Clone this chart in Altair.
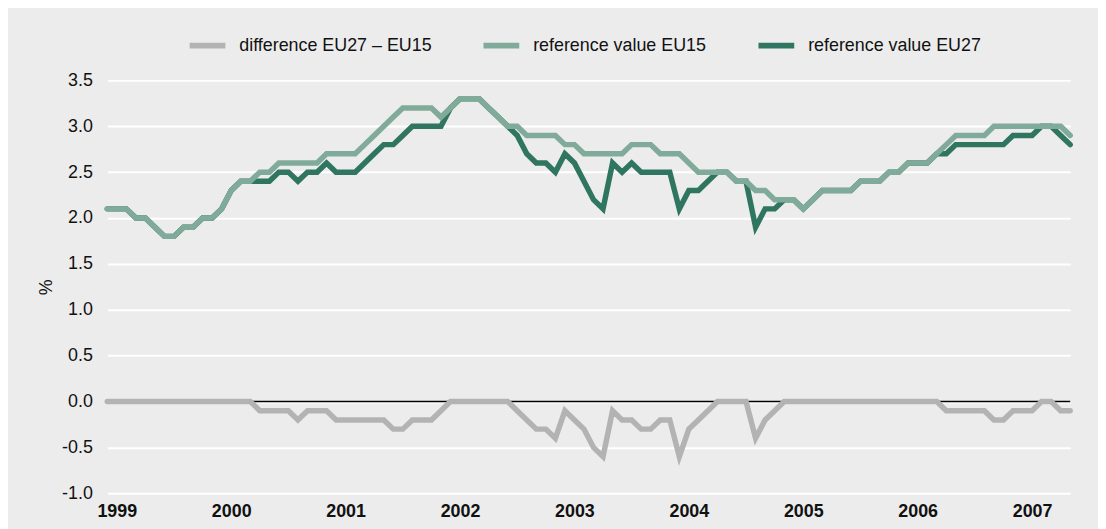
import altair as alt
import pandas as pd

# Monthly values, January 1999 to June 2007 (102 months)
EU15 = [2.1, 2.1, 2.1, 2.0, 2.0, 1.9, 1.8, 1.8, 1.9, 1.9, 2.0, 2.0,
        2.1, 2.3, 2.4, 2.4, 2.5, 2.5, 2.6, 2.6, 2.6, 2.6, 2.6, 2.7,
        2.7, 2.7, 2.7, 2.8, 2.9, 3.0, 3.1, 3.2, 3.2, 3.2, 3.2, 3.1,
        3.2, 3.3, 3.3, 3.3, 3.2, 3.1, 3.0, 3.0, 2.9, 2.9, 2.9, 2.9,
        2.8, 2.8, 2.7, 2.7, 2.7, 2.7, 2.7, 2.8, 2.8, 2.8, 2.7, 2.7,
        2.7, 2.6, 2.5, 2.5, 2.5, 2.5, 2.4, 2.4, 2.3, 2.3, 2.2, 2.2,
        2.2, 2.1, 2.2, 2.3, 2.3, 2.3, 2.3, 2.4, 2.4, 2.4, 2.5, 2.5,
        2.6, 2.6, 2.6, 2.7, 2.8, 2.9, 2.9, 2.9, 2.9, 3.0, 3.0, 3.0,
        3.0, 3.0, 3.0, 3.0, 3.0, 2.9]

EU27 = [2.1, 2.1, 2.1, 2.0, 2.0, 1.9, 1.8, 1.8, 1.9, 1.9, 2.0, 2.0,
        2.1, 2.3, 2.4, 2.4, 2.4, 2.4, 2.5, 2.5, 2.4, 2.5, 2.5, 2.6,
        2.5, 2.5, 2.5, 2.6, 2.7, 2.8, 2.8, 2.9, 3.0, 3.0, 3.0, 3.0,
        3.2, 3.3, 3.3, 3.3, 3.2, 3.1, 3.0, 2.9, 2.7, 2.6, 2.6, 2.5,
        2.7, 2.6, 2.4, 2.2, 2.1, 2.6, 2.5, 2.6, 2.5, 2.5, 2.5, 2.5,
        2.1, 2.3, 2.3, 2.4, 2.5, 2.5, 2.4, 2.4, 1.9, 2.1, 2.1, 2.2,
        2.2, 2.1, 2.2, 2.3, 2.3, 2.3, 2.3, 2.4, 2.4, 2.4, 2.5, 2.5,
        2.6, 2.6, 2.6, 2.7, 2.7, 2.8, 2.8, 2.8, 2.8, 2.8, 2.8, 2.9,
        2.9, 2.9, 3.0, 3.0, 2.9, 2.8]

DIFF = [0.0, 0.0, 0.0, 0.0, 0.0, 0.0, 0.0, 0.0, 0.0, 0.0, 0.0, 0.0,
        0.0, 0.0, 0.0, 0.0, -0.1, -0.1, -0.1, -0.1, -0.2, -0.1, -0.1, -0.1,
        -0.2, -0.2, -0.2, -0.2, -0.2, -0.2, -0.3, -0.3, -0.2, -0.2, -0.2, -0.1,
        0.0, 0.0, 0.0, 0.0, 0.0, 0.0, 0.0, -0.1, -0.2, -0.3, -0.3, -0.4,
        -0.1, -0.2, -0.3, -0.5, -0.6, -0.1, -0.2, -0.2, -0.3, -0.3, -0.2, -0.2,
        -0.6, -0.3, -0.2, -0.1, 0.0, 0.0, 0.0, 0.0, -0.4, -0.2, -0.1, 0.0,
        0.0, 0.0, 0.0, 0.0, 0.0, 0.0, 0.0, 0.0, 0.0, 0.0, 0.0, 0.0,
        0.0, 0.0, 0.0, 0.0, -0.1, -0.1, -0.1, -0.1, -0.1, -0.2, -0.2, -0.1,
        -0.1, -0.1, 0.0, 0.0, -0.1, -0.1]

SERIES = ["difference EU27 – EU15", "reference value EU15", "reference value EU27"]
COLORS = ["#b3b3b3", "#80aa9a", "#2f7560"]
YEARS = [1999, 2000, 2001, 2002, 2003, 2004, 2005, 2006, 2007]
Y_TICKS = [-1.0, -0.5, 0.0, 0.5, 1.0, 1.5, 2.0, 2.5, 3.0, 3.5]
ZERO = [0.0]

rows = []
for name, vals in zip(SERIES, [DIFF, EU15, EU27]):
    for i, v in enumerate(vals):
        rows.append({"m": i, "series": name, "v": v})
df = pd.DataFrame(rows)

FONT = "Liberation Sans"
n = len(EU15)
tick_pos = [1 + 12 * k for k in range(len(YEARS))]

x_enc = alt.X(
    "m:Q",
    scale=alt.Scale(domain=[0, n - 1], nice=False, zero=False),
    axis=alt.Axis(
        values=tick_pos,
        labelExpr="'' + (1999 + floor(datum.value / 12))",
        grid=False, domain=False, ticks=False, tickSize=0,
        labelPadding=9, labelFontSize=18, labelFontWeight="bold",
        labelFont=FONT, labelColor="#111111", labelFlush=False,
    ),
    title=None,
)
y_enc = alt.Y(
    "v:Q",
    scale=alt.Scale(domain=[-1.0, 3.5], nice=False, zero=False),
    axis=alt.Axis(
        values=Y_TICKS,
        labelExpr="(datum.value < 0 ? '-' : '') + format(abs(datum.value), '.1f')",
        grid=True, gridColor="white", gridWidth=2,
        domain=False, ticks=False, tickSize=0,
        labelPadding=15, labelFontSize=18, labelFont=FONT,
        labelColor="#111111", labelFlush=False,
        title="%", titleFontSize=18, titleFont=FONT, titleFontWeight="normal",
        titleColor="#111111", titleAngle=270, titleX=-61, titleY=208,
        titleAlign="center", titleBaseline="middle",
    ),
)
color_enc = alt.Color(
    "series:N",
    scale=alt.Scale(domain=SERIES, range=COLORS),
    legend=alt.Legend(
        orient="none", legendX=80, legendY=-56, direction="horizontal",
        title=None, symbolType="stroke", symbolSize=1296, symbolStrokeWidth=6,
        labelFontSize=18, labelFont=FONT, labelColor="#111111", labelLimit=0,
        labelOffset=11, columnPadding=40, padding=0,
    ),
)

base = alt.Chart(df)
layers = [
    alt.Chart(pd.DataFrame({"z": ZERO})).mark_rule(color="black", strokeWidth=1.5).encode(y=alt.Y("z:Q")),
]
for name in [SERIES[0], SERIES[2], SERIES[1]]:
    layers.append(
        base.transform_filter(alt.datum.series == name)
        .mark_line(strokeWidth=5.5, strokeCap="round")
        .encode(x=x_enc, y=y_enc, color=color_enc)
    )

chart = (
    alt.layer(*layers)
    .properties(
        width=970, height=416,
        autosize=alt.AutoSizeParams(type="none"),
        padding={"left": 100, "top": 71, "right": 28, "bottom": 34},
        background="#ececec",
    )
    .configure_view(stroke=None)
)

chart.save("out.html", embed_options={"renderer": "svg", "actions": False})
